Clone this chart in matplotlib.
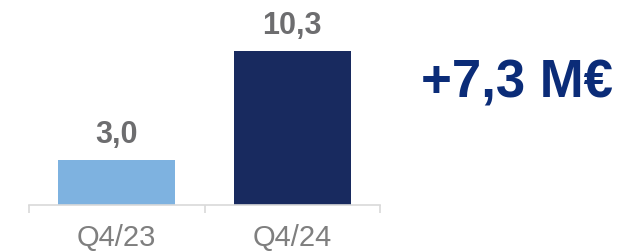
import matplotlib.pyplot as plt

quarters = ["Q4/23", "Q4/24"]
values = [3.0, 10.3]
value_labels = ["3,0", "10,3"]
delta_label = "+7,3 M€"

plt.rcParams['font.family'] = ['Liberation Sans', 'DejaVu Sans']

fig = plt.figure(figsize=(6.27, 2.52), dpi=100)
ax = fig.add_axes([29 / 627, 47 / 252, 351 / 627, 195 / 252])

x = range(len(quarters))
ax.bar(x, values, width=0.667, color=["#7EB2E0", "#182A5F"])

for xi, v, lab in zip(x, values, value_labels):
    ax.annotate(lab, (xi, v), xytext=(0, 12), textcoords="offset points",
                ha="center", va="baseline", fontsize=22, fontweight="bold",
                color="#6D6D6F")

ax.set_xlim(-0.5, 1.5)
ax.set_ylim(0, 13.04)

for s in ["top", "left", "right"]:
    ax.spines[s].set_visible(False)
ax.spines["bottom"].set_color("#D9D9D9")
ax.spines["bottom"].set_linewidth(1.2)
ax.set_yticks([])

ax.set_xticks([-0.5, 0.5, 1.5])
ax.set_xticklabels([])
ax.tick_params(axis="x", which="major", length=6, width=1.2, color="#D9D9D9")
ax.set_xticks(list(x), minor=True)
ax.set_xticklabels(quarters, minor=True)
ax.tick_params(axis="x", which="minor", length=0, pad=14, labelsize=21,
               labelcolor="#7F7F7F")

fig.text(421 / 627, (252 - 97) / 252, delta_label, ha="left", va="baseline",
         fontsize=38, fontweight="bold", color="#0B2C78")

fig.savefig("out.png", dpi=100)
